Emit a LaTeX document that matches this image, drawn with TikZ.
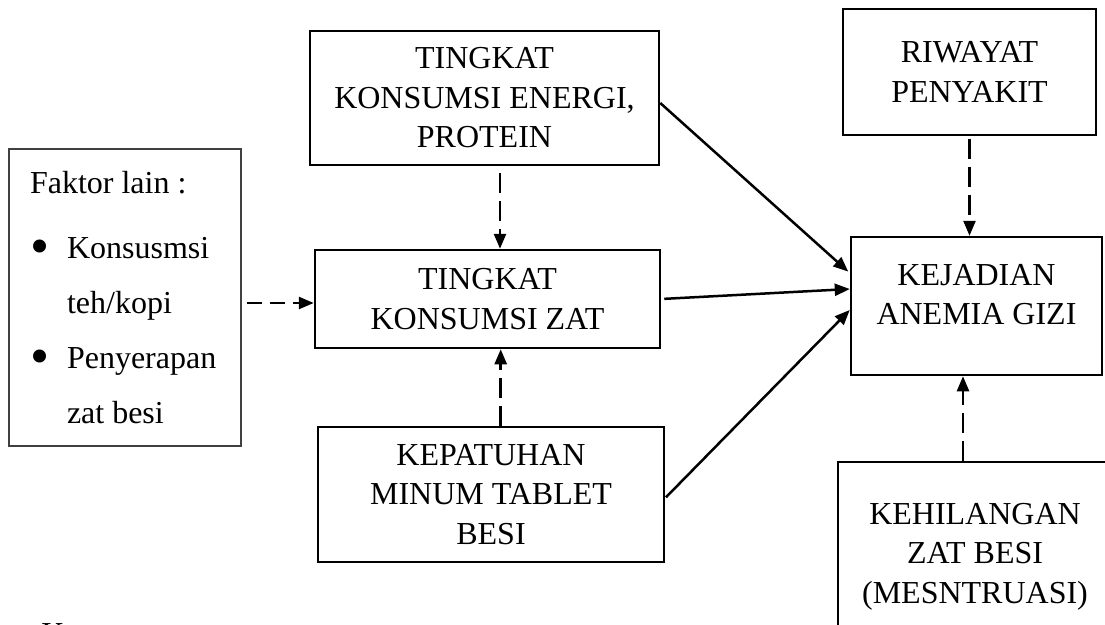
\documentclass[tikz,border=0pt]{standalone}
\usepackage{fontspec}
\usepackage{graphicx}
\setmainfont{Liberation Serif}
\usetikzlibrary{arrows.meta,positioning}
\tikzstyle{kotak} = [rectangle, draw, line width=2.5pt, align=center,
    inner sep=0pt, font=\fontsize{32}{39.5}\selectfont]
\tikzstyle{putus} = [dash pattern=on 20pt off 8pt]
\newcommand{\butir}{\makebox[37pt][l]{\raisebox{-6pt}{\scalebox{1.7}{\textbullet}}}}

\begin{document}
\begin{tikzpicture}[->,>={Triangle[length=15pt,width=12pt]},x=1pt,y=1pt,
                    line width=2.5pt]
  \useasboundingbox (0,0) rectangle (1105,-624);
  \node[kotak,minimum width=349pt,minimum height=134pt] (energi) at (484.5,-98)
       {TINGKAT\\KONSUMSI ENERGI,\\PROTEIN};
  \node[kotak,minimum width=345pt,minimum height=98pt,node distance=201pt,
        below of=energi,xshift=3pt] (zat) {TINGKAT\\KONSUMSI ZAT};
  \node[kotak,minimum width=346pt,minimum height=135pt,node distance=195.5pt,
        below of=zat,xshift=3.5pt] (patuh) {KEPATUHAN\\MINUM TABLET\\BESI};
  \node[kotak,minimum width=251pt,minimum height=138pt,node distance=489pt,
        right of=zat,yshift=-7pt] (anemia) {KEJADIAN\\ANEMIA GIZI\\[-16pt]~};
  \node[kotak,minimum width=253pt,minimum height=126pt,node distance=234pt,
        above of=anemia,xshift=-7pt] (riwayat) {RIWAYAT\\PENYAKIT};
  \node[kotak,minimum width=274pt,minimum height=189pt,node distance=250.5pt,
        below of=anemia,xshift=-1.5pt] (hilang) {KEHILANGAN\\ZAT BESI\\(MESNTRUASI)};
  \node[draw=black!75,line width=1.3pt,align=left,text width=190pt,inner xsep=21pt,
        inner ysep=0pt,minimum height=297pt,font=\fontsize{32}{55}\selectfont,
        node distance=362.5pt,left of=zat,yshift=1.5pt] (faktor)
       {\spaceskip=.25em\relax
        Faktor lain :\\[10pt]
        \butir Konsusmsi\\
        \hspace*{37pt}teh/kopi\\
        \butir Penyerapan\\
        \hspace*{37pt}zat besi};
  \node[anchor=base west,inner sep=0pt,font=\fontsize{32}{39.5}\selectfont]
       (ket) at (40,-644) {K};

  % garis putus-putus
  \draw[putus,shorten <=7pt] ([xshift=15.5pt]energi.south)
       -- ([xshift=15.5pt]energi.south |- zat.north);
  \draw[putus] ([xshift=9.7pt]patuh.north) -- ([xshift=9.7pt]patuh.north |- zat.south);
  \draw[dash pattern=on 15pt off 8pt,shorten <=5pt] ([yshift=-5.5pt]faktor.east)
       -- ([yshift=-5.5pt]faktor.east -| zat.west);
  \draw[putus,shorten <=3pt] (riwayat.south) -- (riwayat.south |- anemia.north);
  \draw[putus] ([xshift=-12pt]hilang.north) -- ([xshift=-12pt]hilang.north |- anemia.south);

  % garis lurus
  \draw[shorten >=2pt] ([yshift=-5pt]energi.east) -- ([yshift=33pt]anemia.west);
  \draw[shorten <=3pt] (zat.east) -- ([yshift=17pt]anemia.west);
  \draw[shorten <=1pt] ([yshift=-3.5pt]patuh.east) -- ([yshift=-4pt]anemia.west);
\end{tikzpicture}
\end{document}
